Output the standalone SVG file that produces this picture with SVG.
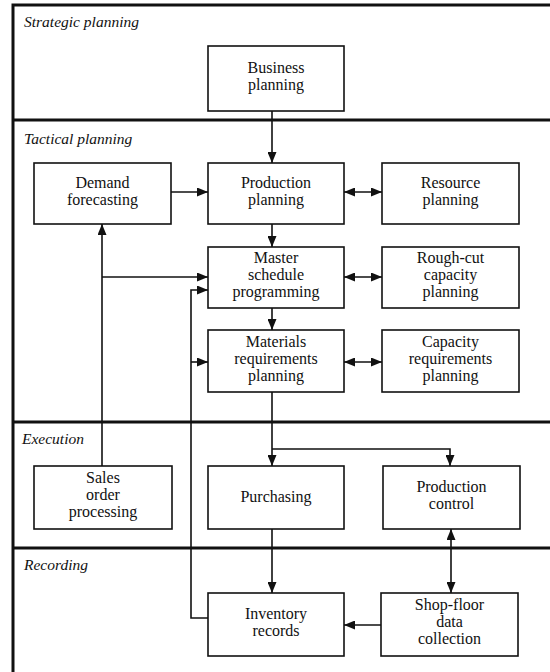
<svg xmlns="http://www.w3.org/2000/svg" width="550" height="672" viewBox="0 0 550 672">
<style>
.box{fill:#fff;stroke:#111;stroke-width:1.6}
.t{font-family:"Liberation Serif","Times New Roman",serif;font-size:16px;fill:#111;text-anchor:middle}
.lbl{font-family:"Liberation Serif","Times New Roman",serif;font-size:15.5px;font-style:italic;fill:#111}
.frame{stroke:#111;stroke-width:3;fill:none}
.c{stroke:#111;stroke-width:1.6;fill:none}
.a{marker-end:url(#ah)}
.d{marker-start:url(#ah);marker-end:url(#ah)}
</style>
<defs>
<marker id="ah" markerUnits="userSpaceOnUse" markerWidth="11" markerHeight="9" refX="11" refY="4.5" orient="auto-start-reverse">
<path d="M0,0 L11,4.5 L0,9 z" fill="#111"/>
</marker>
</defs>
<rect width="550" height="672" fill="#fff"/>
<g id="frame">
<path class="frame" d="M550,5 H13 V672"/>
<line class="frame" x1="13" y1="120" x2="550" y2="120"/>
<line class="frame" x1="13" y1="422" x2="550" y2="422"/>
<line class="frame" x1="13" y1="548" x2="550" y2="548"/>
<text class="lbl" x="24" y="27">Strategic planning</text>
<text class="lbl" x="24" y="144">Tactical planning</text>
<text class="lbl" x="22" y="444">Execution</text>
<text class="lbl" x="24" y="570">Recording</text>
</g>
<g id="connectors">
<line class="c a" x1="272" y1="111" x2="272" y2="163"/>
<line class="c a" x1="272" y1="224" x2="272" y2="247"/>
<line class="c a" x1="272" y1="308" x2="272" y2="330"/>
<line class="c a" x1="272" y1="392" x2="272" y2="466"/>
<polyline class="c a" points="272,449 450,449 450,466"/>
<line class="c a" x1="171" y1="192" x2="208" y2="192"/>
<line class="c d" x1="344" y1="192" x2="382" y2="192"/>
<line class="c d" x1="344" y1="277" x2="382" y2="277"/>
<line class="c d" x1="344" y1="362" x2="382" y2="362"/>
<line class="c a" x1="102" y1="466" x2="102" y2="224"/>
<line class="c a" x1="102" y1="277" x2="208" y2="277"/>
<polyline class="c a" points="208,618 191,618 191,290 208,290"/>
<line class="c a" x1="191" y1="362" x2="208" y2="362"/>
<line class="c a" x1="272" y1="529" x2="272" y2="593"/>
<line class="c d" x1="451" y1="529" x2="451" y2="593"/>
<line class="c a" x1="381" y1="625" x2="344" y2="625"/>
</g>
<g id="business">
<rect class="box" x="208" y="46" width="136" height="65"/>
<text class="t" x="276" y="72.5">Business</text>
<text class="t" x="276" y="89.5">planning</text>
</g>
<g id="demand">
<rect class="box" x="34" y="163" width="137" height="61"/>
<text class="t" x="102.5" y="187.5">Demand</text>
<text class="t" x="102.5" y="204.5">forecasting</text>
</g>
<g id="production-planning">
<rect class="box" x="208" y="163" width="136" height="61"/>
<text class="t" x="276" y="187.5">Production</text>
<text class="t" x="276" y="204.5">planning</text>
</g>
<g id="resource">
<rect class="box" x="382" y="163" width="137" height="61"/>
<text class="t" x="450.5" y="187.5">Resource</text>
<text class="t" x="450.5" y="204.5">planning</text>
</g>
<g id="master">
<rect class="box" x="208" y="247" width="136" height="61"/>
<text class="t" x="276" y="263">Master</text>
<text class="t" x="276" y="280">schedule</text>
<text class="t" x="276" y="297">programming</text>
</g>
<g id="roughcut">
<rect class="box" x="382" y="247" width="137" height="61"/>
<text class="t" x="450.5" y="263">Rough-cut</text>
<text class="t" x="450.5" y="280">capacity</text>
<text class="t" x="450.5" y="297">planning</text>
</g>
<g id="mrp">
<rect class="box" x="208" y="330" width="136" height="62"/>
<text class="t" x="276" y="346.5">Materials</text>
<text class="t" x="276" y="363.5">requirements</text>
<text class="t" x="276" y="380.5">planning</text>
</g>
<g id="crp">
<rect class="box" x="382" y="330" width="137" height="62"/>
<text class="t" x="450.5" y="346.5">Capacity</text>
<text class="t" x="450.5" y="363.5">requirements</text>
<text class="t" x="450.5" y="380.5">planning</text>
</g>
<g id="sales">
<rect class="box" x="34" y="466" width="138" height="63"/>
<text class="t" x="103" y="483">Sales</text>
<text class="t" x="103" y="500">order</text>
<text class="t" x="103" y="517">processing</text>
</g>
<g id="purchasing">
<rect class="box" x="208" y="466" width="136" height="63"/>
<text class="t" x="276" y="502">Purchasing</text>
</g>
<g id="production-control">
<rect class="box" x="383" y="466" width="137" height="63"/>
<text class="t" x="451.5" y="491.5">Production</text>
<text class="t" x="451.5" y="508.5">control</text>
</g>
<g id="inventory">
<rect class="box" x="208" y="593" width="136" height="63"/>
<text class="t" x="276" y="618.5">Inventory</text>
<text class="t" x="276" y="635.5">records</text>
</g>
<g id="shopfloor">
<rect class="box" x="381" y="593" width="137" height="63"/>
<text class="t" x="449.5" y="610">Shop-floor</text>
<text class="t" x="449.5" y="627">data</text>
<text class="t" x="449.5" y="644">collection</text>
</g>
</svg>
